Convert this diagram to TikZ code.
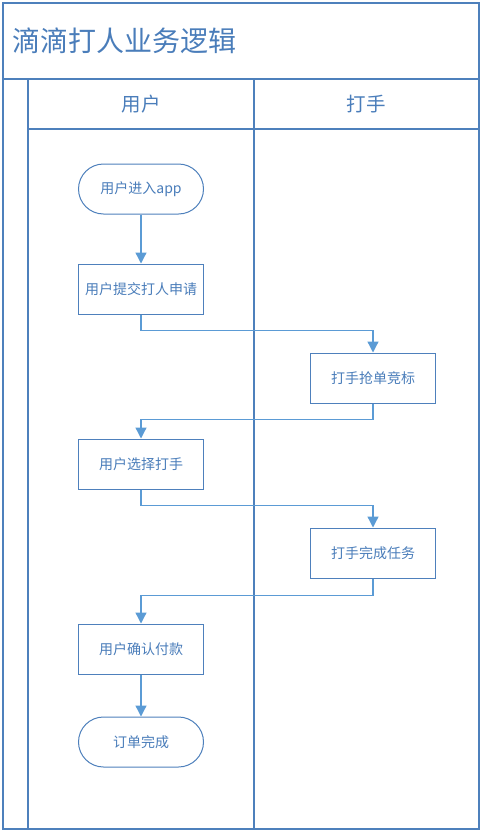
\documentclass[tikz,border=0pt]{standalone}
\usepackage{fontspec}
\setmainfont{Noto Sans CJK SC}
\usepackage{tikz}
\usetikzlibrary{arrows.meta,positioning,shapes.geometric,calc}
\definecolor{Frame}{HTML}{4E80BC}
\definecolor{Flow}{HTML}{5B9BD5}
\definecolor{Ink}{HTML}{4A7DBA}

\begin{document}
\begin{tikzpicture}[x=1pt,y=-1pt,
    lane/.style={draw=Frame,line width=1.2pt},
    task/.style={draw=Frame,line width=1pt,fill=white,minimum width=125pt,
      minimum height=50pt,inner sep=0pt,text=Ink,font=\fontsize{14}{16}\selectfont},
    term/.style={task,rounded corners=25pt},
    head/.style={text=Ink,font=\fontsize{19.5}{22}\selectfont},
    flow/.style={draw=Flow,line width=1.3pt,-{Triangle[width=11pt,length=11pt]}}
  ]
    \useasboundingbox (0,0) rectangle (483,835);
    % swimlane frame
    \draw[lane] (3,3) rectangle (479,829);
    \draw[lane] (3,79) -- (479,79);
    \draw[lane] (28,79) -- (28,829);
    \draw[lane] (254,79) -- (254,829);
    \draw[lane] (28,129) -- (479,129);
    \node[anchor=west,text=Ink,font=\fontsize{28}{32}\selectfont] (title) at (9,41)
      {滴滴打人业务逻辑};
    \node[head] (user) at (141,104) {用户};
    \node[head] (player) at (366,104) {打手};

    % steps
    \node[term] (start) at (141,189) {用户进入app};
    \node[task] (apply) at (141,289) {用户提交打人申请};
    \node[task] (bid) at (373,378) {打手抢单竞标};
    \node[task] (choose) at (141,464) {用户选择打手};
    \node[task] (finish) at (373,553) {打手完成任务};
    \node[task] (pay) at (141,649) {用户确认付款};
    \node[term] (done) at (141,742) {订单完成};

    \draw[flow] (start) -- (apply);
    \draw[flow] (apply.south) -- ++(0,16) -| (bid.north);
    \draw[flow] (bid.south) -- ++(0,16) -| (choose.north);
    \draw[flow] (choose.south) -- ++(0,16) -| (finish.north);
    \draw[flow] (finish.south) -- ++(0,17) -| (pay.north);
    \draw[flow] (pay) -- (done);
\end{tikzpicture}
\end{document}
